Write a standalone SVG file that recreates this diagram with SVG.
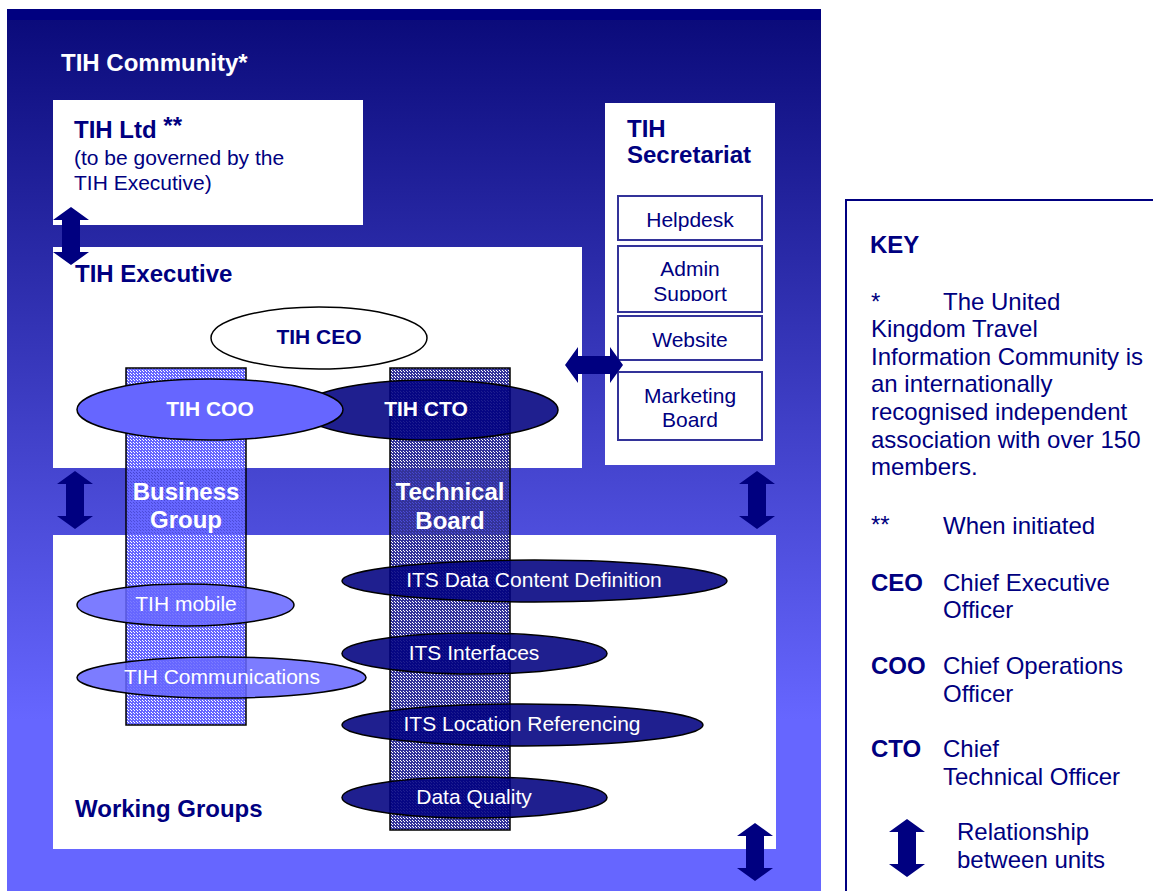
<svg xmlns="http://www.w3.org/2000/svg" width="1153" height="891" viewBox="0 0 1153 891">
  <defs>
    <linearGradient id="bg" gradientUnits="userSpaceOnUse" x1="0" y1="20" x2="0" y2="720">
      <stop offset="0" stop-color="#0b0b7b"/>
      <stop offset="1" stop-color="#6666ff"/>
    </linearGradient>
    <pattern id="patLightCol" patternUnits="userSpaceOnUse" x="0" y="0" width="3" height="3">
      <path d="M0 0h3v3h-3z M1 1v1h1v-1z M2 2v1h1v-1z" fill="#6666ff" fill-rule="evenodd"/>
    </pattern>
    <pattern id="patDarkCol" patternUnits="userSpaceOnUse" x="0" y="0" width="3" height="3">
      <path d="M0 0h3v3h-3z M1 1v1h1v-1z M2 2v1h1v-1z" fill="#333399" fill-rule="evenodd"/>
    </pattern>
    <path id="vArrow" d="M18 0 L36 13 L27 13 L27 45 L36 45 L18 58 L0 45 L9 45 L9 13 L0 13 Z" fill="#000080"/>
    <clipPath id="clipAdmin">
      <rect x="618" y="246" width="144" height="55"/>
    </clipPath>
  </defs>
  <style>
    text { font-family: "Liberation Sans", Arial, sans-serif; }
    .hd { font-size: 24px; font-weight: bold; fill: #000080; }
    .hw { font-size: 24px; font-weight: bold; fill: #ffffff; }
    .reg { font-size: 21px; fill: #000080; }
    .ew { font-size: 21px; font-weight: bold; fill: #ffffff; text-anchor: middle; }
    .wg { font-size: 21px; fill: #ffffff; text-anchor: middle; }
    .sub { font-size: 21px; fill: #000080; text-anchor: middle; }
    .key { font-size: 24px; fill: #000080; }
    .keyb { font-size: 24px; font-weight: bold; fill: #000080; }
    .box { fill: #ffffff; }
    .subbox { fill: #ffffff; stroke: #333399; stroke-width: 2; }
    .col { stroke: #000000; stroke-width: 1.5; }
    .ell { stroke: #000000; stroke-width: 1.5; }
    .dark { fill: #000080; fill-opacity: 0.88; }
    .light { fill: #6666ff; fill-opacity: 0.86; }
  </style>

  <g id="community">
    <rect x="7" y="9" width="814" height="882" fill="url(#bg)"/>
    <rect x="7" y="9" width="814" height="11" fill="#000080"/>
    <rect x="7" y="720" width="814" height="171" fill="#6666ff"/>
    <text class="hw" x="61" y="71" font-size="23.5">TIH Community*</text>
  </g>

  <g id="tih-ltd">
    <rect class="box" x="53" y="100" width="310" height="125"/>
    <text class="hd" x="74" y="138">TIH Ltd <tspan dy="-4">**</tspan></text>
    <text class="reg" x="74" y="165">(to be governed by the</text>
    <text class="reg" x="74" y="190">TIH Executive)</text>
  </g>

  <g id="tih-executive">
    <rect class="box" x="53" y="247" width="529" height="221"/>
    <text class="hd" x="75" y="282">TIH Executive</text>
  </g>

  <g id="tih-secretariat">
    <rect class="box" x="605" y="103" width="170" height="362"/>
    <text class="hd" x="627" y="137">TIH</text>
    <text class="hd" x="627" y="163">Secretariat</text>
  </g>
  <g id="helpdesk">
    <rect class="subbox" x="618" y="196" width="144" height="44"/>
    <text class="sub" x="690" y="227">Helpdesk</text>
  </g>
  <g id="admin-support">
    <rect class="subbox" x="618" y="246" width="144" height="66"/>
    <g clip-path="url(#clipAdmin)">
      <text class="sub" x="690" y="276">Admin</text>
      <text class="sub" x="690" y="301">Support</text>
    </g>
  </g>
  <g id="website">
    <rect class="subbox" x="618" y="316" width="144" height="44"/>
    <text class="sub" x="690" y="347">Website</text>
  </g>
  <g id="marketing-board">
    <rect class="subbox" x="618" y="372" width="144" height="68"/>
    <text class="sub" x="690" y="403">Marketing</text>
    <text class="sub" x="690" y="427">Board</text>
  </g>

  <g id="working-groups">
    <rect class="box" x="53" y="535" width="723" height="314"/>
    <text class="hd" x="75" y="817">Working Groups</text>
  </g>

  <g id="business-group">
    <rect class="col" x="126" y="368" width="120" height="357" fill="url(#patLightCol)"/>
  </g>
  <g id="technical-board">
    <rect class="col" x="390" y="368" width="120" height="462" fill="url(#patDarkCol)"/>
  </g>

  <g id="tih-ceo">
    <ellipse class="ell" cx="319" cy="338" rx="108" ry="31" fill="#ffffff"/>
    <text x="319" y="344" font-size="21" font-weight="bold" fill="#000080" text-anchor="middle">TIH CEO</text>
  </g>
  <g id="tih-cto">
    <ellipse class="ell dark" cx="429" cy="410" rx="129" ry="30"/>
    <text class="ew" x="426" y="416">TIH CTO</text>
  </g>
  <g id="tih-coo">
    <ellipse class="ell" cx="210" cy="409.5" rx="133" ry="30.5" fill="#6666ff"/>
    <text class="ew" x="210" y="416">TIH COO</text>
  </g>

  <g id="business-group-label">
    <text class="hw" x="186" y="500" text-anchor="middle">Business</text>
    <text class="hw" x="186" y="528" text-anchor="middle">Group</text>
  </g>
  <g id="technical-board-label">
    <text class="hw" x="450" y="500" text-anchor="middle">Technical</text>
    <text class="hw" x="450" y="529" text-anchor="middle">Board</text>
  </g>

  <g id="its-data-content">
    <ellipse class="ell dark" cx="534.5" cy="581" rx="192.5" ry="21"/>
    <text class="wg" x="534" y="587">ITS Data Content Definition</text>
  </g>
  <g id="its-interfaces">
    <ellipse class="ell dark" cx="474.5" cy="653.5" rx="132.5" ry="20.5"/>
    <text class="wg" x="474" y="660">ITS Interfaces</text>
  </g>
  <g id="its-location">
    <ellipse class="ell dark" cx="522.5" cy="725" rx="180.5" ry="21"/>
    <text class="wg" x="522" y="731">ITS Location Referencing</text>
  </g>
  <g id="data-quality">
    <ellipse class="ell dark" cx="474.5" cy="797.5" rx="132.5" ry="20.5"/>
    <text class="wg" x="474" y="804">Data Quality</text>
  </g>
  <g id="tih-mobile">
    <ellipse class="ell light" cx="185.5" cy="605" rx="108.5" ry="21"/>
    <text class="wg" x="186" y="611">TIH mobile</text>
  </g>
  <g id="tih-communications">
    <ellipse class="ell light" cx="221.5" cy="677.5" rx="144.5" ry="20.5"/>
    <text class="wg" x="222" y="684">TIH Communications</text>
  </g>

  <g id="connectors">
    <use href="#vArrow" x="53" y="207"/>
    <use href="#vArrow" x="57" y="471"/>
    <use href="#vArrow" x="739" y="471"/>
    <use href="#vArrow" x="737" y="823"/>
    <use href="#vArrow" transform="translate(623 347) rotate(90)"/>
  </g>

  <g id="key">
    <rect x="846" y="200" width="320" height="700" fill="#ffffff" stroke="#000080" stroke-width="2"/>
    <text class="keyb" x="870" y="253" font-size="25">KEY</text>
    <text class="key" x="871" y="310">*</text>
    <text class="key" x="943" y="310">The United</text>
    <text class="key" x="871" y="337">Kingdom Travel</text>
    <text class="key" x="871" y="365">Information Community is</text>
    <text class="key" x="871" y="392">an internationally</text>
    <text class="key" x="871" y="420">recognised independent</text>
    <text class="key" x="871" y="448">association with over 150</text>
    <text class="key" x="871" y="475">members.</text>
    <text class="key" x="871" y="533">**</text>
    <text class="key" x="943" y="534">When initiated</text>
    <text class="keyb" x="871" y="591">CEO</text>
    <text class="key" x="943" y="591">Chief Executive</text>
    <text class="key" x="943" y="618">Officer</text>
    <text class="keyb" x="871" y="674">COO</text>
    <text class="key" x="943" y="674">Chief Operations</text>
    <text class="key" x="943" y="702">Officer</text>
    <text class="keyb" x="871" y="757">CTO</text>
    <text class="key" x="943" y="757">Chief</text>
    <text class="key" x="943" y="785">Technical Officer</text>
    <use href="#vArrow" x="889" y="819"/>
    <text class="key" x="957" y="840">Relationship</text>
    <text class="key" x="957" y="868">between units</text>
  </g>
</svg>
